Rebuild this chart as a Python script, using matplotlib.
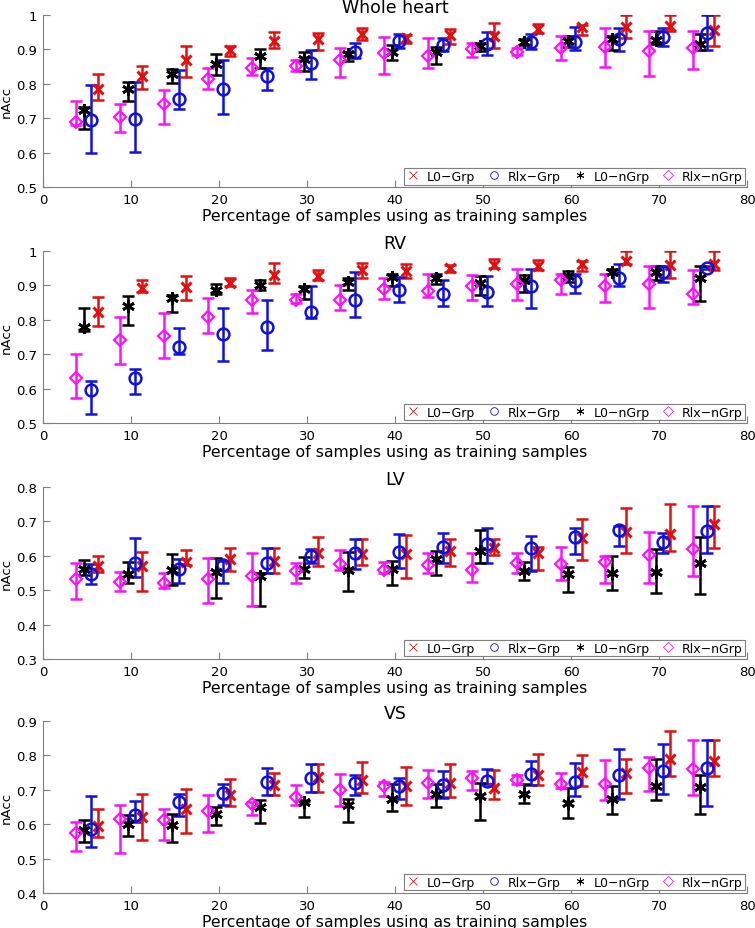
import numpy as np
from matplotlib import pyplot as plt
from matplotlib.lines import Line2D

plt.rcParams['font.family'] = ['DejaVu Sans']

x = [5, 10, 15, 20, 25, 30, 35, 40, 45, 50, 55, 60, 65, 70, 75]
names = ['L0\u2212Grp', 'Rlx\u2212Grp', 'L0\u2212nGrp', 'Rlx\u2212nGrp']
titles = ['Whole heart', 'RV', 'LV', 'VS']
ylims = [(0.5, 1.0), (0.5, 1.0), (0.3, 0.8), (0.4, 0.9)]

# ---- Whole heart
wh_l0grp = [0.786, 0.823, 0.870, 0.899, 0.925, 0.930, 0.945, 0.932, 0.942, 0.940, 0.959, 0.964, 0.964, 0.969, 0.956]
wh_l0grp_lo = [0.752, 0.785, 0.821, 0.882, 0.903, 0.899, 0.928, 0.920, 0.916, 0.903, 0.947, 0.943, 0.932, 0.954, 0.909]
wh_l0grp_hi = [0.828, 0.852, 0.911, 0.911, 0.951, 0.948, 0.961, 0.943, 0.959, 0.977, 0.974, 0.971, 1.0, 1.0, 1.0]
wh_rlxgrp = [0.695, 0.697, 0.757, 0.785, 0.823, 0.862, 0.894, 0.924, 0.912, 0.917, 0.923, 0.922, 0.931, 0.935, 0.948]
wh_rlxgrp_lo = [0.599, 0.602, 0.726, 0.712, 0.783, 0.814, 0.876, 0.903, 0.896, 0.883, 0.901, 0.899, 0.896, 0.911, 0.899]
wh_rlxgrp_hi = [0.796, 0.806, 0.841, 0.869, 0.846, 0.898, 0.918, 0.944, 0.933, 0.951, 0.946, 0.965, 0.961, 0.961, 1.0]
wh_l0ngrp = [0.723, 0.785, 0.829, 0.858, 0.881, 0.872, 0.888, 0.894, 0.893, 0.911, 0.923, 0.924, 0.931, 0.928, 0.915]
wh_l0ngrp_lo = [0.668, 0.751, 0.802, 0.825, 0.846, 0.838, 0.866, 0.870, 0.859, 0.896, 0.914, 0.908, 0.899, 0.917, 0.899]
wh_l0ngrp_hi = [0.734, 0.806, 0.844, 0.888, 0.901, 0.894, 0.894, 0.913, 0.908, 0.919, 0.929, 0.939, 0.939, 0.954, 0.945]
wh_rlxngrp = [0.689, 0.703, 0.742, 0.813, 0.845, 0.853, 0.868, 0.891, 0.880, 0.901, 0.894, 0.904, 0.907, 0.896, 0.905]
wh_rlxngrp_lo = [0.681, 0.659, 0.682, 0.786, 0.827, 0.838, 0.820, 0.828, 0.846, 0.879, 0.884, 0.870, 0.850, 0.824, 0.843]
wh_rlxngrp_hi = [0.749, 0.740, 0.783, 0.845, 0.874, 0.869, 0.905, 0.935, 0.933, 0.920, 0.903, 0.940, 0.961, 0.954, 0.954]

# ---- RV
rv_l0grp = [0.824, 0.893, 0.894, 0.908, 0.930, 0.927, 0.945, 0.942, 0.952, 0.959, 0.957, 0.961, 0.970, 0.959, 0.961]
rv_l0grp_lo = [0.783, 0.881, 0.858, 0.897, 0.906, 0.916, 0.923, 0.921, 0.939, 0.952, 0.945, 0.942, 0.961, 0.923, 0.945]
rv_l0grp_hi = [0.867, 0.915, 0.926, 0.923, 0.966, 0.945, 0.964, 0.961, 0.959, 0.978, 0.974, 0.970, 1.0, 1.0, 1.0]
rv_rlxgrp = [0.597, 0.631, 0.721, 0.760, 0.778, 0.824, 0.857, 0.887, 0.876, 0.880, 0.899, 0.913, 0.923, 0.940, 0.952]
rv_rlxgrp_lo = [0.526, 0.585, 0.701, 0.680, 0.713, 0.805, 0.808, 0.852, 0.839, 0.839, 0.834, 0.879, 0.897, 0.911, 0.949]
rv_rlxgrp_hi = [0.621, 0.656, 0.777, 0.834, 0.859, 0.899, 0.940, 0.925, 0.917, 0.926, 0.949, 0.934, 0.962, 0.956, 0.956]
rv_l0ngrp = [0.780, 0.839, 0.864, 0.886, 0.902, 0.891, 0.909, 0.925, 0.923, 0.906, 0.915, 0.927, 0.940, 0.939, 0.921]
rv_l0ngrp_lo = [0.768, 0.785, 0.824, 0.876, 0.886, 0.860, 0.887, 0.897, 0.905, 0.872, 0.882, 0.911, 0.932, 0.917, 0.854]
rv_l0ngrp_hi = [0.834, 0.868, 0.872, 0.905, 0.916, 0.898, 0.923, 0.932, 0.934, 0.928, 0.929, 0.942, 0.949, 0.956, 0.956]
rv_rlxngrp = [0.630, 0.740, 0.753, 0.809, 0.859, 0.857, 0.859, 0.889, 0.884, 0.898, 0.905, 0.916, 0.897, 0.905, 0.874]
rv_rlxngrp_lo = [0.573, 0.671, 0.689, 0.763, 0.821, 0.848, 0.828, 0.860, 0.867, 0.857, 0.857, 0.876, 0.852, 0.834, 0.845]
rv_rlxngrp_hi = [0.702, 0.809, 0.821, 0.863, 0.887, 0.874, 0.901, 0.921, 0.934, 0.929, 0.949, 0.934, 0.934, 0.956, 0.946]

# ---- LV
lv_l0grp = [0.570, 0.569, 0.583, 0.592, 0.584, 0.608, 0.606, 0.605, 0.614, 0.622, 0.609, 0.651, 0.670, 0.663, 0.692]
lv_l0grp_lo = [0.553, 0.498, 0.574, 0.557, 0.550, 0.571, 0.573, 0.535, 0.569, 0.602, 0.559, 0.588, 0.609, 0.614, 0.623]
lv_l0grp_hi = [0.598, 0.611, 0.617, 0.622, 0.623, 0.656, 0.648, 0.661, 0.648, 0.648, 0.626, 0.706, 0.738, 0.752, 0.745]
lv_rlxgrp = [0.548, 0.579, 0.563, 0.573, 0.580, 0.598, 0.607, 0.611, 0.627, 0.634, 0.623, 0.656, 0.676, 0.641, 0.671]
lv_rlxgrp_lo = [0.519, 0.538, 0.522, 0.520, 0.551, 0.579, 0.563, 0.565, 0.578, 0.580, 0.555, 0.605, 0.629, 0.608, 0.609]
lv_rlxgrp_hi = [0.576, 0.653, 0.590, 0.585, 0.622, 0.619, 0.648, 0.662, 0.665, 0.680, 0.658, 0.680, 0.687, 0.666, 0.745]
lv_l0ngrp = [0.561, 0.546, 0.559, 0.554, 0.540, 0.562, 0.558, 0.563, 0.592, 0.614, 0.555, 0.546, 0.550, 0.553, 0.579]
lv_l0ngrp_lo = [0.544, 0.522, 0.515, 0.476, 0.455, 0.534, 0.498, 0.516, 0.545, 0.578, 0.529, 0.496, 0.501, 0.491, 0.488]
lv_l0ngrp_hi = [0.587, 0.582, 0.605, 0.593, 0.551, 0.597, 0.612, 0.586, 0.614, 0.675, 0.582, 0.567, 0.600, 0.621, 0.654]
lv_rlxngrp = [0.532, 0.525, 0.522, 0.532, 0.542, 0.557, 0.577, 0.558, 0.573, 0.560, 0.578, 0.576, 0.582, 0.603, 0.619]
lv_rlxngrp_lo = [0.474, 0.499, 0.506, 0.462, 0.455, 0.522, 0.560, 0.551, 0.551, 0.524, 0.550, 0.530, 0.522, 0.522, 0.542]
lv_rlxngrp_hi = [0.578, 0.553, 0.551, 0.595, 0.609, 0.580, 0.617, 0.582, 0.607, 0.609, 0.609, 0.626, 0.600, 0.668, 0.745]

# ---- VS
vs_l0grp = [0.595, 0.621, 0.643, 0.686, 0.715, 0.738, 0.728, 0.710, 0.721, 0.706, 0.744, 0.752, 0.749, 0.789, 0.784]
vs_l0grp_lo = [0.562, 0.553, 0.574, 0.653, 0.686, 0.694, 0.691, 0.657, 0.679, 0.674, 0.713, 0.711, 0.692, 0.740, 0.740]
vs_l0grp_hi = [0.643, 0.688, 0.701, 0.731, 0.749, 0.774, 0.780, 0.767, 0.775, 0.759, 0.804, 0.801, 0.789, 0.871, 0.845]
vs_rlxgrp = [0.587, 0.626, 0.665, 0.692, 0.723, 0.733, 0.719, 0.710, 0.713, 0.726, 0.747, 0.723, 0.744, 0.756, 0.764]
vs_rlxgrp_lo = [0.534, 0.606, 0.623, 0.655, 0.686, 0.694, 0.684, 0.674, 0.676, 0.718, 0.715, 0.682, 0.674, 0.689, 0.653]
vs_rlxgrp_hi = [0.681, 0.667, 0.689, 0.718, 0.764, 0.774, 0.744, 0.735, 0.754, 0.760, 0.784, 0.779, 0.818, 0.833, 0.845]
vs_l0ngrp = [0.583, 0.601, 0.598, 0.630, 0.650, 0.665, 0.655, 0.672, 0.688, 0.681, 0.688, 0.662, 0.672, 0.711, 0.709]
vs_l0ngrp_lo = [0.548, 0.567, 0.548, 0.598, 0.603, 0.621, 0.606, 0.638, 0.650, 0.611, 0.662, 0.619, 0.630, 0.671, 0.630]
vs_l0ngrp_hi = [0.611, 0.626, 0.631, 0.650, 0.669, 0.668, 0.674, 0.716, 0.716, 0.720, 0.716, 0.706, 0.711, 0.789, 0.742]
vs_rlxngrp = [0.574, 0.616, 0.611, 0.637, 0.659, 0.679, 0.699, 0.710, 0.720, 0.733, 0.728, 0.716, 0.718, 0.762, 0.760]
vs_rlxngrp_lo = [0.521, 0.517, 0.553, 0.577, 0.628, 0.655, 0.653, 0.682, 0.676, 0.699, 0.718, 0.704, 0.669, 0.697, 0.686]
vs_rlxngrp_hi = [0.606, 0.655, 0.645, 0.684, 0.665, 0.715, 0.746, 0.723, 0.759, 0.755, 0.744, 0.749, 0.786, 0.796, 0.845]

panels = [
	[(wh_l0grp, wh_l0grp_lo, wh_l0grp_hi), (wh_rlxgrp, wh_rlxgrp_lo, wh_rlxgrp_hi),
	 (wh_l0ngrp, wh_l0ngrp_lo, wh_l0ngrp_hi), (wh_rlxngrp, wh_rlxngrp_lo, wh_rlxngrp_hi)],
	[(rv_l0grp, rv_l0grp_lo, rv_l0grp_hi), (rv_rlxgrp, rv_rlxgrp_lo, rv_rlxgrp_hi),
	 (rv_l0ngrp, rv_l0ngrp_lo, rv_l0ngrp_hi), (rv_rlxngrp, rv_rlxngrp_lo, rv_rlxngrp_hi)],
	[(lv_l0grp, lv_l0grp_lo, lv_l0grp_hi), (lv_rlxgrp, lv_rlxgrp_lo, lv_rlxgrp_hi),
	 (lv_l0ngrp, lv_l0ngrp_lo, lv_l0ngrp_hi), (lv_rlxngrp, lv_rlxngrp_lo, lv_rlxngrp_hi)],
	[(vs_l0grp, vs_l0grp_lo, vs_l0grp_hi), (vs_rlxgrp, vs_rlxgrp_lo, vs_rlxgrp_hi),
	 (vs_l0ngrp, vs_l0ngrp_lo, vs_l0ngrp_hi), (vs_rlxngrp, vs_rlxngrp_lo, vs_rlxngrp_hi)],
]

# style per series: offset, colour, marker, size, edge width
offsets = [1.2, 0.4, -0.4, -1.2]
colors = ['#e01010', '#1010e0', 'black', '#ff10ff']
markers = ['x', 'o', (6, 2, 0), 'D']
msizes = [7, 8.5, 9, 6]
mews = [2.2, 1.8, 2.0, 1.6]

grey = '#7f7f7f'
fig = plt.figure(figsize=(7.55, 9.29), dpi=100)
bottoms = [0.7976, 0.5436, 0.2896, 0.0377]

for p in range(4):
	ax = fig.add_axes([0.057, bottoms[p], 0.9325, 0.1851])
	for s in range(4):
		m, lo, hi = [np.array(v) for v in panels[p][s]]
		yerr = np.vstack([np.maximum(m - lo, 0), np.maximum(hi - m, 0)])
		xs = np.array(x) + offsets[s]
		ax.errorbar(xs, m, yerr=yerr, fmt='none', ecolor=colors[s], elinewidth=1.8,
					capsize=4.5, capthick=1.8, zorder=2)
		ax.plot(xs, m, linestyle='none', marker=markers[s], markersize=msizes[s],
				markeredgewidth=mews[s], markeredgecolor=colors[s], markerfacecolor='none', zorder=3)
	ax.set_xlim(0, 80)
	ax.set_ylim(*ylims[p])
	ax.set_xticks(range(0, 81, 10))
	ax.set_yticks(np.round(np.arange(ylims[p][0], ylims[p][1] + 0.01, 0.1), 1))
	ax.set_yticklabels([('%g' % v) for v in ax.get_yticks()])
	ax.spines['top'].set_visible(False)
	ax.spines['right'].set_visible(False)
	for sp in ['left', 'bottom']:
		ax.spines[sp].set_color(grey)
		ax.spines[sp].set_linewidth(0.8)
	ax.tick_params(direction='in', length=5, width=0.8, color=grey, labelsize=9.5, pad=4)
	# title placed by its baseline, just above the axes
	ax.text(0.5, 1.0 + 3.0 / 172, titles[p], transform=ax.transAxes, ha='center',
			va='baseline', fontsize=12.5)
	ax.set_xlabel('Percentage of samples using as training samples', fontsize=11.3, labelpad=2)
	ax.set_ylabel('nAcc', fontsize=9.5, labelpad=3)

	handles = [Line2D([], [], linestyle='none', marker=markers[s], markersize=5.5,
					  markeredgewidth=0.6, markeredgecolor=colors[s], markerfacecolor='none')
			   for s in range(4)]
	leg = ax.legend(handles, names, loc='lower right', ncol=4, fontsize=9,
					bbox_to_anchor=(1.0, 0.0), borderaxespad=0.2, borderpad=0.15,
					handlelength=1.2, handletextpad=0.5, columnspacing=0.9,
					fancybox=False, framealpha=1.0, edgecolor=grey)
	leg.get_frame().set_linewidth(0.8)

plt.savefig('out.png', dpi=100)
